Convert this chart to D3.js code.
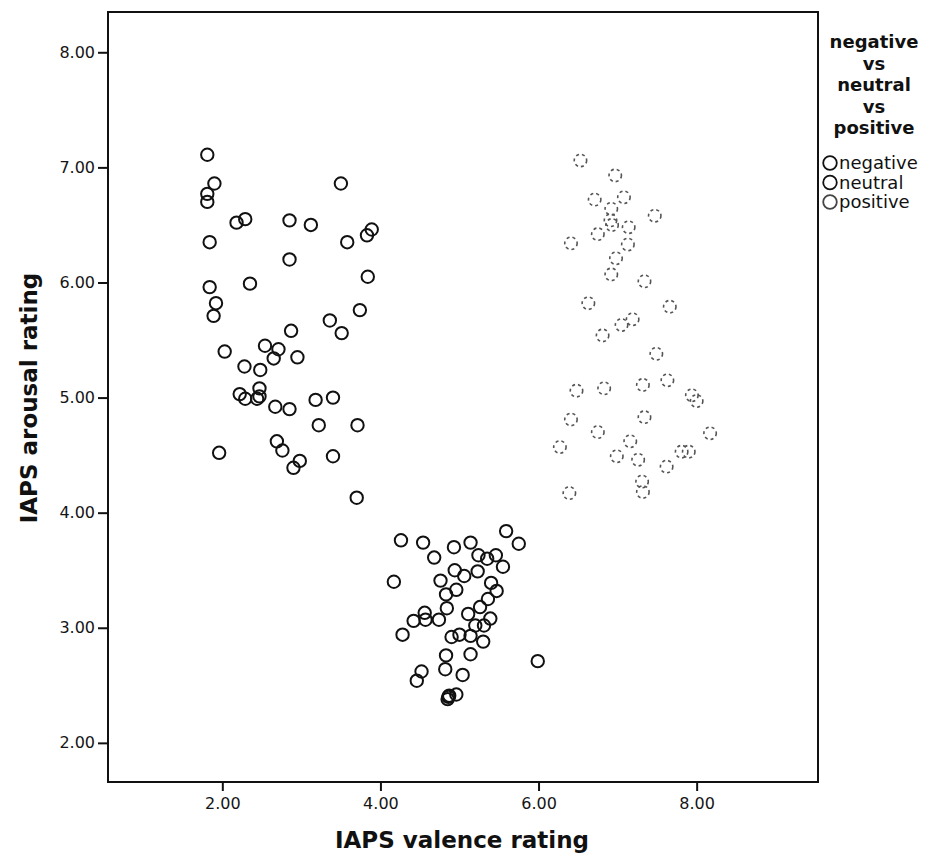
<!DOCTYPE html>
<html lang="en">
    <head>
        <meta charset="utf-8">
        <title>IAPS valence vs arousal</title>
        <script src="https://d3js.org/d3.v7.min.js"></script>
        <style type="text/css">
          body { margin: 0; background: #fff; }
          svg { width: 930px; height: 862px; display: block; }
          .tick text { font-family: "DejaVu Sans", sans-serif; font-size: 16px; fill: #151515; }
          .axis-title { font-family: "DejaVu Sans", sans-serif; font-size: 23px; font-weight: bold; fill: #111; }
          .legend-title { font-family: "DejaVu Sans", sans-serif; font-size: 18px; font-weight: bold; fill: #111; }
          .legend-item { font-family: "DejaVu Sans", sans-serif; font-size: 18px; fill: #111; }
        </style>
    </head>
    <body>
        <svg></svg>
        <script type="text/javascript">

        // [valence, arousal] per picture
        const negative = [
          [1.81,7.11],[1.90,6.86],[1.81,6.77],[1.81,6.70],[2.18,6.52],[2.29,6.55],[2.85,6.54],[3.12,6.50],
          [3.50,6.86],[1.84,6.35],[2.85,6.20],[3.58,6.35],[3.83,6.41],[3.89,6.46],[3.84,6.05],[1.84,5.96],
          [2.35,5.99],[1.92,5.82],[1.89,5.71],[3.74,5.76],[3.36,5.67],[2.87,5.58],[3.51,5.56],[2.03,5.40],
          [2.54,5.45],[2.71,5.42],[2.65,5.34],[2.95,5.35],[2.28,5.27],[2.48,5.24],[2.47,5.08],[2.22,5.03],
          [2.29,4.99],[2.44,4.99],[2.47,5.01],[2.67,4.92],[2.85,4.90],[3.18,4.98],[3.40,5.00],[3.22,4.76],
          [3.71,4.76],[1.96,4.52],[2.69,4.62],[2.76,4.54],[2.98,4.45],[2.90,4.39],[3.40,4.49],[3.70,4.13]
        ];
        const neutral = [
          [4.26,3.76],[4.54,3.74],[4.93,3.70],[5.14,3.74],[5.59,3.84],[5.75,3.73],[4.68,3.61],[5.24,3.63],
          [5.35,3.60],[5.46,3.63],[5.55,3.53],[4.94,3.50],[5.06,3.45],[5.23,3.49],[4.17,3.40],[4.76,3.41],
          [5.40,3.39],[4.96,3.33],[5.47,3.32],[4.83,3.29],[5.36,3.25],[4.84,3.17],[5.26,3.18],[4.56,3.13],
          [4.42,3.06],[4.57,3.07],[4.74,3.07],[5.11,3.12],[5.39,3.08],[5.20,3.02],[5.31,3.02],[4.28,2.94],
          [4.90,2.92],[5.00,2.94],[5.14,2.93],[5.30,2.88],[4.83,2.76],[5.14,2.77],[4.52,2.62],[4.46,2.54],
          [4.82,2.64],[5.04,2.59],[5.99,2.71],[4.86,2.40],[4.85,2.38],[4.87,2.41],[4.96,2.42]
        ];
        const positive = [
          [6.53,7.06],[6.97,6.93],[7.08,6.74],[6.71,6.72],[6.92,6.64],[7.47,6.58],[6.91,6.54],[6.93,6.50],
          [7.14,6.48],[6.75,6.42],[6.41,6.34],[7.13,6.33],[6.98,6.21],[6.92,6.07],[7.34,6.01],[6.63,5.82],
          [7.66,5.79],[7.19,5.68],[7.05,5.63],[6.81,5.54],[7.49,5.38],[6.48,5.06],[6.83,5.08],[7.32,5.11],
          [7.63,5.15],[7.94,5.02],[8.00,4.97],[7.34,4.83],[6.41,4.81],[6.75,4.70],[8.17,4.69],[6.27,4.57],
          [7.16,4.62],[6.99,4.49],[7.26,4.46],[7.81,4.53],[7.90,4.53],[7.62,4.40],[7.31,4.27],[7.32,4.18],
          [6.39,4.17]
        ];
        const groups = ["negative", "neutral", "positive"];
        const tickValues = [2, 4, 6, 8];
        const yTickValues = [2, 3, 4, 5, 6, 7, 8];

        const svg = d3.select("svg");

        const plotLeft = 108, plotRight = 818, plotTop = 12, plotBottom = 782;

        const x = d3.scaleLinear().domain([0.554, 9.535]).range([plotLeft, plotRight]);
        const y = d3.scaleLinear().domain([1.66, 8.35]).range([plotBottom, plotTop]);

        // frame
        svg.append("rect")
           .attr("x", plotLeft).attr("y", plotTop)
           .attr("width", plotRight - plotLeft).attr("height", plotBottom - plotTop)
           .attr("fill", "none").attr("stroke", "#111").attr("stroke-width", 2);

        const xAxis = svg.append("g")
           .attr("transform", "translate(0," + plotBottom + ")")
           .call(d3.axisBottom(x).tickValues(tickValues).tickFormat(d3.format(".2f")).tickSize(9).tickPadding(7));
        const yAxis = svg.append("g")
           .attr("transform", "translate(" + plotLeft + ",0)")
           .call(d3.axisLeft(y).tickValues(yTickValues).tickFormat(d3.format(".2f")).tickSize(10).tickPadding(3));
        xAxis.select(".domain").remove();
        yAxis.select(".domain").remove();
        svg.selectAll(".tick line").attr("stroke", "#111").attr("stroke-width", 2);

        // axis titles
        svg.append("text")
           .attr("class", "axis-title")
           .attr("x", 462).attr("y", 848)
           .attr("text-anchor", "middle")
           .text("IAPS valence rating");
        svg.append("text")
           .attr("class", "axis-title")
           .attr("transform", "translate(37,398) rotate(-90)")
           .attr("text-anchor", "middle")
           .text("IAPS arousal rating");

        // points
        const style = {
          negative: {stroke: "#111", dash: null, width: 2},
          neutral: {stroke: "#111", dash: null, width: 2},
          positive: {stroke: "#555", dash: "3,3", width: 1.6}
        };
        const all = [negative, neutral, positive];
        all.forEach((pts, i) => {
          const s = style[groups[i]];
          svg.append("g").selectAll("circle")
             .data(pts)
             .enter()
             .append("circle")
             .attr("cx", d => x(d[0]))
             .attr("cy", d => y(d[1]))
             .attr("r", 6.2)
             .attr("fill", "none")
             .attr("stroke", s.stroke)
             .attr("stroke-width", s.width)
             .attr("stroke-dasharray", s.dash);
        });

        // legend
        const titleLines = ["negative", "vs", "neutral", "vs", "positive"];
        svg.append("g").selectAll("text")
           .data(titleLines)
           .enter()
           .append("text")
           .attr("class", "legend-title")
           .attr("x", 874)
           .attr("y", (d, i) => 48 + i * 21.5)
           .attr("text-anchor", "middle")
           .text(d => d);

        const items = svg.append("g").selectAll("g")
           .data(groups)
           .enter()
           .append("g")
           .attr("transform", (d, i) => "translate(830," + (163 + i * 19.5) + ")");
        items.append("circle")
           .attr("r", 6.8)
           .attr("fill", "none")
           .attr("stroke", d => d === "positive" ? "#444" : "#111")
           .attr("stroke-width", 1.8);
        items.append("text")
           .attr("class", "legend-item")
           .attr("x", 9).attr("y", 6)
           .text(d => d);
        </script>
    </body>
</html>
